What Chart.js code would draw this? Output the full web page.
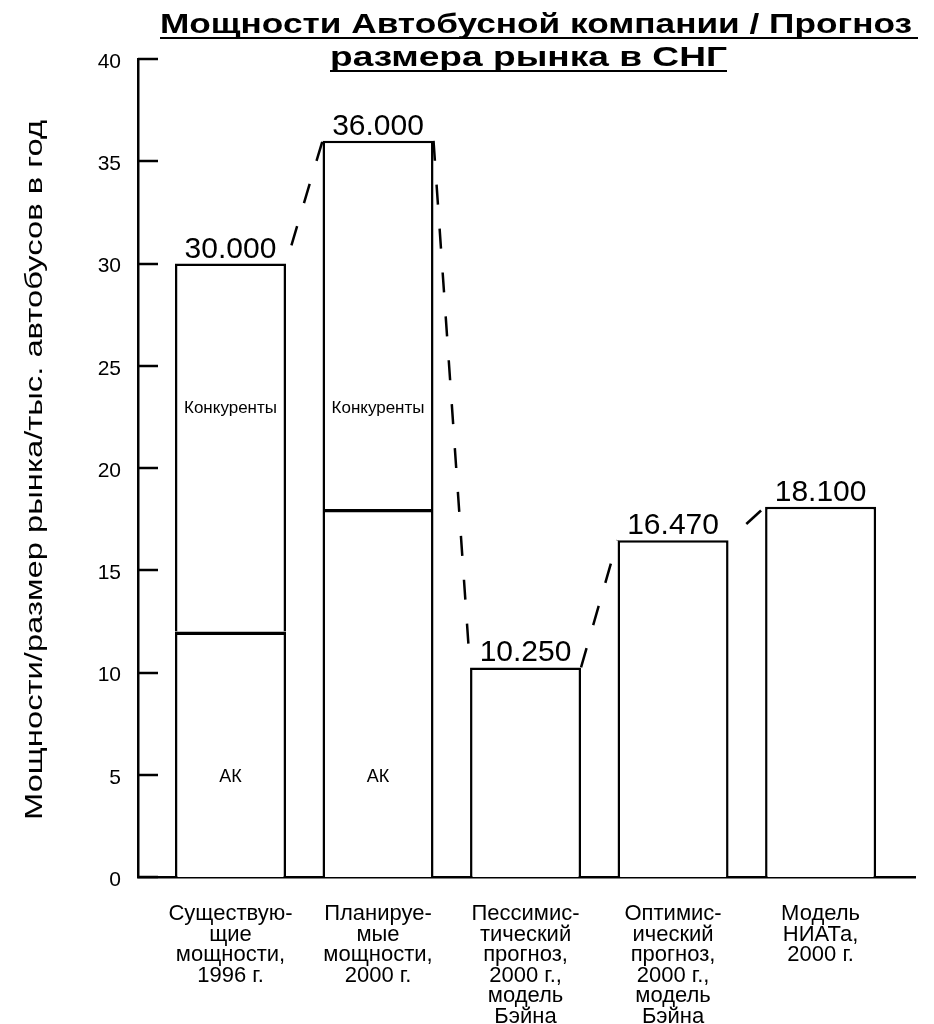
<!DOCTYPE html>
<html><head><meta charset="utf-8">
<script src="https://cdn.jsdelivr.net/npm/chart.js@4.4.0/dist/chart.umd.min.js"></script>
<style>html,body{margin:0;padding:0;background:#fff;overflow:hidden;}canvas{display:block;}</style>
</head><body>
<canvas id="c" width="934" height="1024"></canvas>
<script>
// ---- data ----
const titleLines = ['Мощности Автобусной компании / Прогноз', 'размера рынка в СНГ'];
const yAxisTitle = 'Мощности/размер рынка/тыс. автобусов в год';
const categories = [
  ['Существую-', 'щие', 'мощности,', '1996 г.'],
  ['Планируе-', 'мые', 'мощности,', '2000 г.'],
  ['Пессимис-', 'тический', 'прогноз,', '2000 г.,', 'модель', 'Бэйна'],
  ['Оптимис-', 'ический', 'прогноз,', '2000 г.,', 'модель', 'Бэйна'],
  ['Модель', 'НИАТа,', '2000 г.']
];
const akValues = [12, 18, 10.25, 16.47, 18.1];
const competitorValues = [18, 18, null, null, null];
const segmentNames = ['АК', 'Конкуренты'];
const yTicks = [0, 5, 10, 15, 20, 25, 30, 35, 40];

const FONT = "'Liberation Sans', Arial, Helvetica, sans-serif";
Chart.defaults.font.family = FONT;
Chart.defaults.color = '#000';

const totals = akValues.map((v, i) => v + (competitorValues[i] || 0));

function stretchedText(ctx, text, x, y, targetWidth) {
  const w = ctx.measureText(text).width;
  const s = targetWidth / w;
  ctx.save();
  ctx.translate(x, y);
  ctx.scale(s, 1);
  ctx.fillText(text, 0, 0);
  ctx.restore();
}

const decor = {
  id: 'decor',
  afterDatasetsDraw(chart) {
    const ctx = chart.ctx;
    const xs = chart.scales.x, ys = chart.scales.y;
    const meta0 = chart.getDatasetMeta(0);
    ctx.save();
    // inner tick marks on y axis
    ctx.strokeStyle = '#000';
    ctx.lineWidth = 2.5;
    ys.ticks.forEach(t => {
      const y = Math.round(ys.getPixelForValue(t.value));
      ctx.beginPath();
      ctx.moveTo(chart.chartArea.left, y);
      ctx.lineTo(chart.chartArea.left + 20, y);
      ctx.stroke();
    });
    // segment labels
    ctx.fillStyle = '#000';
    ctx.textAlign = 'center';
    ctx.textBaseline = 'middle';
    competitorValues.forEach((c, i) => {
      if (c == null) return;
      const x = xs.getPixelForValue(i);
      ctx.font = '18px ' + FONT;
      ctx.fillText(segmentNames[0], x, ys.getPixelForValue(4.9));
      ctx.font = '17px ' + FONT;
      ctx.fillText(segmentNames[1], x, ys.getPixelForValue(22.9));
    });
    // value labels
    ctx.font = '30px ' + FONT;
    ctx.textBaseline = 'alphabetic';
    totals.forEach((v, i) => {
      ctx.fillText(v.toFixed(3), xs.getPixelForValue(i), ys.getPixelForValue(v) - 6);
    });
    // dashed connectors
    const offsets = [25, 0, 0, 20];
    ctx.lineWidth = 2.5;
    ctx.setLineDash([20, 24]);
    for (let i = 0; i < totals.length - 1; i++) {
      const a = meta0.data[i], b = meta0.data[i + 1];
      ctx.lineDashOffset = offsets[i];
      ctx.beginPath();
      ctx.moveTo(a.x + a.width / 2, ys.getPixelForValue(totals[i]));
      ctx.lineTo(b.x - b.width / 2, ys.getPixelForValue(totals[i + 1]));
      ctx.stroke();
    }
    ctx.restore();
  },
  afterDraw(chart) {
    const ctx = chart.ctx;
    ctx.save();
    ctx.fillStyle = '#000';
    ctx.strokeStyle = '#000';
    // chart title (bold, underlined)
    ctx.font = 'bold 28px ' + FONT;
    ctx.textAlign = 'left';
    ctx.textBaseline = 'alphabetic';
    const starts = [160, 330];
    const widths = [752, 397];
    const baselines = [33, 66];
    const underlineExtra = [6, 0];
    titleLines.forEach((t, k) => {
      stretchedText(ctx, t, starts[k], baselines[k], widths[k]);
      ctx.lineWidth = 2.2;
      ctx.beginPath();
      ctx.moveTo(starts[k], baselines[k] + 5);
      ctx.lineTo(starts[k] + widths[k] + underlineExtra[k], baselines[k] + 5);
      ctx.stroke();
    });
    // y axis title (rotated)
    ctx.font = '23px ' + FONT;
    ctx.save();
    ctx.translate(42, 470);
    ctx.rotate(-Math.PI / 2);
    const wy = ctx.measureText(yAxisTitle).width;
    ctx.scale(700 / wy, 1);
    ctx.textAlign = 'center';
    ctx.fillText(yAxisTitle, 0, 0);
    ctx.restore();
    ctx.restore();
  }
};

const barStyle = {
  backgroundColor: '#fff',
  borderColor: '#000',
  barPercentage: 0.7525,
  categoryPercentage: 1.0
};

new Chart(document.getElementById('c').getContext('2d'), {
  type: 'bar',
  data: {
    datasets: [
      Object.assign({
        label: segmentNames[0],
        data: akValues.map((v, i) => ({ x: i, y: v })),
        borderWidth: c => competitorValues[c.dataIndex] != null
          ? { top: 3.5, left: 2.5, right: 2.5, bottom: 2.5 } : 2.5
      }, barStyle),
      Object.assign({
        label: segmentNames[1],
        data: competitorValues.map((v, i) => v == null ? null : ({ x: i, y: v })).filter(Boolean),
        borderWidth: 2.5
      }, barStyle)
    ]
  },
  options: {
    responsive: false,
    animation: false,
    devicePixelRatio: 1,
    layout: { padding: { left: 10, right: 19, top: 59, bottom: 0 } },
    plugins: { legend: { display: false }, title: { display: false }, tooltip: { enabled: false } },
    scales: {
      x: {
        type: 'linear', stacked: true, offset: false,
        min: -0.627, max: 4.64,
        grid: { display: false, drawTicks: false },
        border: { display: true, color: '#000', width: 2.5 },
        afterBuildTicks: s => { s.ticks = categories.map((_, i) => ({ value: i })); },
        afterFit: s => { s.height = 147; },
        ticks: {
          autoSkip: false, maxRotation: 0, minRotation: 0, padding: 27,
          color: '#000', font: { size: 22, lineHeight: 0.93 },
          callback: v => categories[v]
        }
      },
      y: {
        stacked: true, min: 0, max: 40,
        grid: { display: false, drawTicks: false },
        border: { display: true, color: '#000', width: 2.5 },
        afterBuildTicks: s => { s.ticks = yTicks.map(v => ({ value: v })); },
        afterFit: s => { s.width = 128; },
        ticks: { padding: 17, color: '#000', font: { size: 21 }, labelOffset: 3 },
        title: { display: false }
      }
    }
  },
  plugins: [decor]
});
</script>
</body></html>
